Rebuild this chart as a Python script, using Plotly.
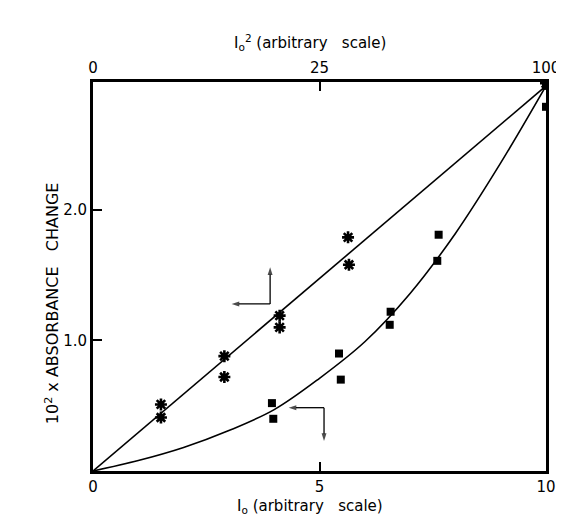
import plotly.graph_objects as go

# ---- data ----
star_x = [1.5, 1.5, 2.9, 2.9, 4.12, 4.12, 5.63, 5.65, 10.0]
star_y = [0.51, 0.41, 0.88, 0.72, 1.19, 1.10, 1.79, 1.58, 2.97]

sq_x = [3.95, 3.98, 5.43, 5.47, 6.57, 6.55, 7.63, 7.60, 10.0, 10.0]
sq_y = [0.52, 0.40, 0.90, 0.70, 1.22, 1.12, 1.81, 1.61, 2.95, 2.79]

line_x = [0, 10]
line_y = [0, 2.95]

curve_x = [0, 1, 2, 3, 4, 5, 6, 7, 8, 9, 10]
curve_y = [0, 0.08, 0.18, 0.31, 0.47, 0.71, 0.99, 1.36, 1.82, 2.36, 2.95]

bottom_ticks = [0, 5, 10]
bottom_labels = ["0", "5", "10"]
top_labels = ["0", "25", "100"]
y_ticks = [1, 2]
y_labels = ["1.0", "2.0"]

# axis-pointer arrows: (corner_x, corner_y, head_x, head_y)
arrows = [
    (3.91, 1.28, 3.91, 1.56),
    (3.91, 1.28, 3.06, 1.28),
    (5.10, 0.485, 4.32, 0.485),
    (5.10, 0.485, 5.10, 0.23),
]

FONT = "DejaVu Sans"
fig = go.Figure()

fig.add_trace(go.Scatter(x=line_x, y=line_y, mode="lines",
                         line=dict(color="black", width=1.6), showlegend=False))
fig.add_trace(go.Scatter(x=curve_x, y=curve_y, mode="lines",
                         line=dict(color="black", width=1.6, shape="spline"), showlegend=False))
fig.add_trace(go.Scatter(x=star_x, y=star_y, mode="markers",
                         marker=dict(symbol="asterisk-open", size=10, color="black",
                                     line=dict(color="black", width=2.6)), showlegend=False))
fig.add_trace(go.Scatter(x=sq_x, y=sq_y, mode="markers",
                         marker=dict(symbol="square", size=8, color="black"), showlegend=False))
for cx, cy, hx, hy in arrows:
    fig.add_trace(go.Scatter(x=[cx, hx], y=[cy, hy], mode="lines+markers",
                             line=dict(color="black", width=1.3),
                             marker=dict(symbol=["circle", "arrow"], size=[0, 8],
                                         angleref="previous", color="black",
                                         line=dict(width=0)),
                             showlegend=False, hoverinfo="skip"))
# invisible trace to activate top axis
fig.add_trace(go.Scatter(x=[0, 10], y=[0, 0], xaxis="x2", mode="markers",
                         marker=dict(opacity=0), showlegend=False, hoverinfo="skip"))

axis_common = dict(showgrid=False, zeroline=False, showline=True, linecolor="black",
                   linewidth=3, ticks="inside", ticklen=9, tickwidth=2, tickcolor="black",
                   tickfont=dict(family=FONT, size=15, color="black"))

fig.update_layout(
    width=564, height=521,
    margin=dict(l=85, r=24, t=74, b=58),
    paper_bgcolor="white", plot_bgcolor="white",
    xaxis=dict(range=[0, 10], tickvals=bottom_ticks, ticktext=bottom_labels,
               mirror=False, **axis_common),
    xaxis2=dict(range=[0, 10], tickvals=bottom_ticks, ticktext=top_labels,
                overlaying="x", side="top", **axis_common),
    yaxis=dict(range=[0, 2.98], tickvals=y_ticks, ticktext=y_labels, mirror=True,
               **axis_common),
)

fig.add_annotation(text="I<sub>o</sub><sup>2</sup> (arbitrary   scale)", xref="paper", yref="paper",
                   x=0.48, y=1.0, yshift=52, showarrow=False,
                   font=dict(family=FONT, size=15, color="black"))
fig.add_annotation(text="I<sub>o</sub> (arbitrary   scale)", xref="paper", yref="paper",
                   x=0.48, y=0.0, yshift=-47, showarrow=False,
                   font=dict(family=FONT, size=15, color="black"))
fig.add_annotation(text="10<sup>2</sup> x ABSORBANCE   CHANGE", xref="paper", yref="paper",
                   x=0.0, xshift=-53, y=0.43, textangle=-90, showarrow=False,
                   font=dict(family=FONT, size=16, color="black"))

fig.write_html("out.html")
